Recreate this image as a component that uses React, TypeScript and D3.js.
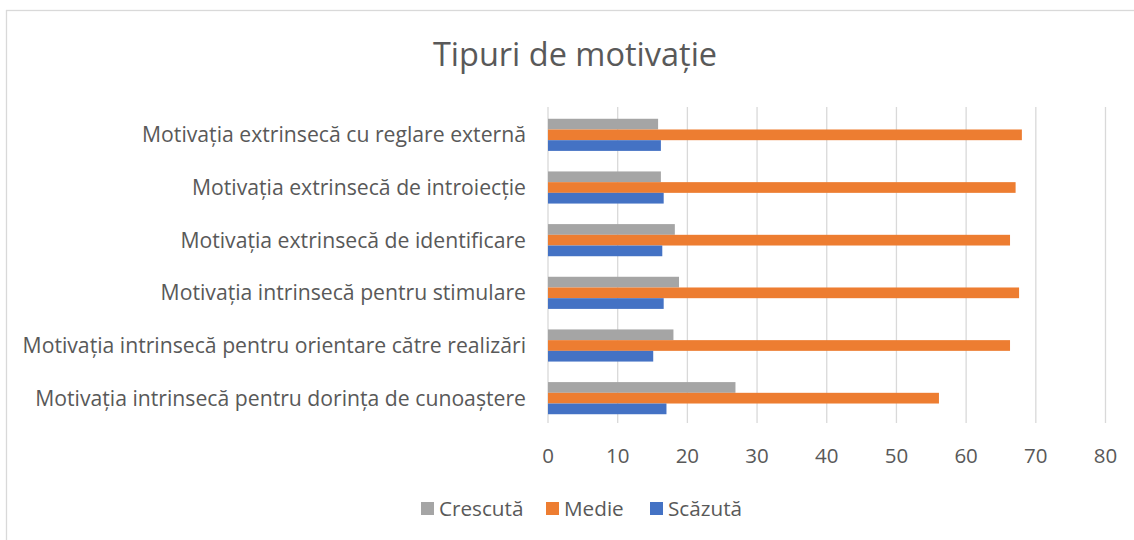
import { useEffect, useRef } from "react";
import * as d3 from "d3";

// categories, top to bottom as drawn
const categories = [
  "Motivația extrinsecă cu reglare externă",
  "Motivația extrinsecă de introiecție",
  "Motivația extrinsecă de identificare",
  "Motivația intrinsecă pentru stimulare",
  "Motivația intrinsecă pentru orientare către realizări",
  "Motivația intrinsecă pentru dorința de cunoaștere",
];

const seriesNames = ["Crescută", "Medie", "Scăzută"];
const crescuta = [15.8, 16.2, 18.2, 18.8, 18.0, 26.9];
const medie = [68.0, 67.1, 66.3, 67.6, 66.3, 56.1];
const scazuta = [16.2, 16.6, 16.4, 16.6, 15.1, 17.0];
const seriesColors = ["#A5A5A5", "#ED7D31", "#4472C4"];
const xTicks = [0, 10, 20, 30, 40, 50, 60, 70, 80];

const W = 1134;
const H = 540;
const FONT = "'Open Sans', Lato, sans-serif";
const TEXT = "#595959";

export default function App() {
  const ref = useRef<SVGSVGElement | null>(null);

  useEffect(() => {
    const el = ref.current;
    if (!el) return;
    const svg = d3.select(el);
    svg.selectAll("*").remove();

    const values = [crescuta, medie, scazuta];

    // chart area frame (right/bottom edges fall outside the picture)
    svg.append("rect")
      .attr("x", 6.5)
      .attr("y", 10.5)
      .attr("width", W + 20)
      .attr("height", H + 20)
      .attr("fill", "#fff")
      .attr("stroke", "#d9d9d9")
      .attr("stroke-width", 1.3);

    svg.append("text")
      .attr("x", 575)
      .attr("y", 66)
      .attr("text-anchor", "middle")
      .attr("fill", TEXT)
      .attr("font-family", FONT)
      .attr("font-size", 32.5)
      .text("Tipuri de motivație");

    const x = d3.scaleLinear().domain([0, 80]).range([548, 1105.5]);
    const y = d3.scaleBand<string>()
      .domain(categories)
      .range([108.5, 424.5])
      .paddingInner(0.39)
      .paddingOuter(0.195);
    const ySub = d3.scaleBand<string>()
      .domain(seriesNames)
      .range([0, y.bandwidth()]);

    // vertical gridlines
    svg.append("g")
      .selectAll("line")
      .data(xTicks)
      .join("line")
      .attr("x1", (d) => x(d))
      .attr("x2", (d) => x(d))
      .attr("y1", 107)
      .attr("y2", 423)
      .attr("stroke", "#d9d9d9")
      .attr("stroke-width", 1.3);

    // bars
    const groups = svg.append("g")
      .selectAll("g")
      .data(categories)
      .join("g")
      .attr("transform", (d) => `translate(0,${y(d)})`);

    groups.each(function (_c, i) {
      d3.select(this)
        .selectAll("rect")
        .data(seriesNames)
        .join("rect")
        .attr("x", x(0))
        .attr("y", (s) => ySub(s) ?? 0)
        .attr("width", (s, k) => x(values[k][i]) - x(0))
        .attr("height", ySub.bandwidth())
        .attr("fill", (s, k) => seriesColors[k]);
    });

    // category labels
    svg.append("g")
      .selectAll("text")
      .data(categories)
      .join("text")
      .attr("x", 526)
      .attr("y", (d) => (y(d) ?? 0) + y.bandwidth() / 2)
      .attr("dy", "0.35em")
      .attr("text-anchor", "end")
      .attr("fill", TEXT)
      .attr("font-family", FONT)
      .attr("font-size", 21.2)
      .text((d) => d);

    // x tick labels
    svg.append("g")
      .selectAll("text")
      .data(xTicks)
      .join("text")
      .attr("x", (d) => x(d))
      .attr("y", 455.5)
      .attr("dy", "0.35em")
      .attr("text-anchor", "middle")
      .attr("fill", TEXT)
      .attr("font-family", FONT)
      .attr("font-size", 20.5)
      .text((d) => String(d));

    // legend
    const legendX = [421, 546, 650];
    const legend = svg.append("g")
      .selectAll("g")
      .data(seriesNames)
      .join("g")
      .attr("transform", (_d, i) => `translate(${legendX[i]},502)`);
    legend.append("rect")
      .attr("width", 13)
      .attr("height", 13)
      .attr("fill", (_d, i) => seriesColors[i]);
    legend.append("text")
      .attr("x", 18)
      .attr("y", 7)
      .attr("dy", "0.35em")
      .attr("fill", TEXT)
      .attr("font-family", FONT)
      .attr("font-size", 20.7)
      .text((d) => d);
  }, []);

  return (
    <svg
      ref={ref}
      width={W}
      height={H}
      style={{ position: "absolute", left: 0, top: 0, display: "block" }}
    />
  );
}
